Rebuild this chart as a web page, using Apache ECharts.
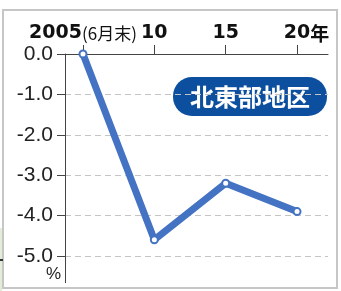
<!DOCTYPE html>
<html>
<head>
<meta charset="utf-8">
<script src="https://cdn.jsdelivr.net/npm/echarts@6/dist/echarts.min.js"></script>
<style>
  html, body { margin: 0; padding: 0; background: #fff; }
  #chart { width: 341px; height: 291px; }
</style>
</head>
<body>
<div id="chart"></div>
<script>
// values (% change, base = 2005 end of June)
var years = [2005, 2010, 2015, 2020];
var values = [0.0, -4.6, -3.2, -3.9];
var yTicks = [0, -1, -2, -3, -4, -5];
var regionName = '北東部地区';

var chart = document.getElementById('chart');
var myChart = echarts.init(chart);

var lineData = years.map(function (y, i) { return [y, values[i]]; });

var option = {
    animation: false,
    grid: {
        left: 65,
        top: 54,
        right: 13,
        bottom: 35
    },
    xAxis: {
        type: 'value',
        position: 'top',
        min: 2003.74,
        max: 2022.17,
        axisLine: { show: true, lineStyle: { color: '#444', width: 1 } },
        axisTick: {
            show: true,
            length: 9,
            customValues: years,
            lineStyle: { color: '#444', width: 1 }
        },
        splitLine: { show: false },
        axisLabel: {
            customValues: years,
            margin: 11,
            formatter: function (v) {
                if (v === 2005) return '{b|2005}{s|(6月末)}';
                if (v === 2020) return '{p|20}{y|年}';
                return '{b|' + String(v).slice(2) + '}';
            },
            rich: {
                b: { fontFamily: 'DejaVu Sans', fontWeight: 'bold', fontSize: 19, color: '#111' },
                p: { fontFamily: 'DejaVu Sans', fontWeight: 'bold', fontSize: 19, color: '#111', padding: [0, 0, 0, 19] },
                y: { fontFamily: 'Noto Sans CJK JP', fontWeight: 'bold', fontSize: 19, color: '#111' },
                s: { fontFamily: 'Noto Sans CJK JP', fontSize: 17, color: '#111' }
            }
        }
    },
    yAxis: {
        type: 'value',
        min: -5,
        max: 0,
        interval: 1,
        axisLine: { show: true, lineStyle: { color: '#444', width: 1 } },
        axisTick: { show: true, length: 8, lineStyle: { color: '#444', width: 1 } },
        axisLabel: {
            margin: 3,
            padding: [0, 9, 0, 0],
            fontFamily: 'Liberation Sans',
            fontSize: 21,
            color: '#222',
            formatter: function (v) { return v.toFixed(1); }
        },
        splitLine: {
            show: true,
            lineStyle: { color: '#c4c4c4', type: [6, 4], width: 1 }
        }
    },
    graphic: [
        // frame of the figure
        { type: 'rect', shape: { x: 3, y: 10, width: 334, height: 278 }, style: { fill: 'none', stroke: '#c6c6c6', lineWidth: 2 }, z: 0 },
        // bits of the neighbouring figure at the left edge
        { type: 'rect', shape: { x: 0, y: 228, width: 2, height: 63 }, style: { fill: '#e3ecd9' }, z: 0 },
        { type: 'rect', shape: { x: 0, y: 259, width: 3, height: 2 }, style: { fill: '#333' }, z: 0 },
        // y axis continues below -5.0
        { type: 'line', shape: { x1: 65.5, y1: 256, x2: 65.5, y2: 283 }, style: { stroke: '#444', lineWidth: 1 }, z: 5 },
        { type: 'text', left: 46, top: 266, style: { text: '%', fontFamily: 'Liberation Sans', fontSize: 17, fill: '#222' } },
        // region badge
        {
            type: 'group', left: 173, top: 77, z: 20,
            children: [
                { type: 'rect', shape: { x: 0, y: 0, width: 154, height: 39, r: 19 }, style: { fill: '#0d4f9f' } },
                {
                    type: 'text', x: 77, y: 20,
                    style: {
                        text: regionName, fill: '#fff', fontFamily: 'Noto Sans CJK JP',
                        fontWeight: 'bold', fontSize: 24, align: 'center', verticalAlign: 'middle'
                    }
                }
            ]
        }
    ],
    series: [
        {
            type: 'line',
            data: lineData,
            symbol: 'circle',
            symbolSize: 7,
            lineStyle: { color: '#4473c3', width: 7, join: 'round' },
            itemStyle: { color: '#fff', borderColor: '#4473c3', borderWidth: 2 },
            z: 10
        }
    ]
};

myChart.setOption(option);
</script>
</body>
</html>
